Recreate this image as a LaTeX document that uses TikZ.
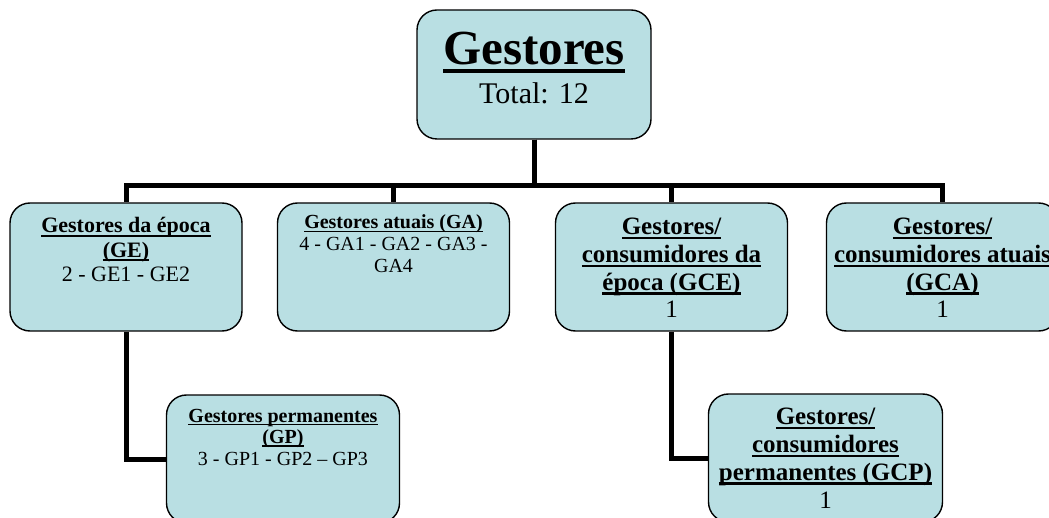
\documentclass[tikz,border=0pt]{standalone}
\usepackage{fontspec}
\setmainfont{Liberation Serif}
\usetikzlibrary{positioning}
\definecolor{boxfill}{RGB}{185,223,227}
\newcommand{\ulin}[1]{\leavevmode\setbox0\hbox{#1}\rlap{\rule[-0.17em]{\wd0}{0.085em}}\box0}
\tikzset{
	box/.style={draw=black, line width=1.4pt, fill=boxfill, rounded corners=20pt, minimum width=232pt, minimum height=128pt, inner sep=0pt},
	txt/.style={anchor=base, align=center, inner sep=0pt},
	link/.style={line width=5pt, draw=black}
}

\begin{document}
\begin{tikzpicture}[x=1pt, y=-1pt]
			%%%%% START %%%%%
			\useasboundingbox (0, 0) rectangle (1049, 518);
			\clip (0, 0) rectangle (1049, 518);
			
			\node[box, minimum width=234pt, minimum height=129pt] (top) at (534, 74.5) {};
			\node[box] (ge) at (126, 267) {};
			\node[box] (ga) at (393.5, 267) {};
			\node[box] (gce) at (671.5, 267) {};
			\node[box] (gca) at (942.5, 267) {};
			\node[box, minimum width=233pt] (gp) at (283, 459) {};
			\node[box, minimum width=234pt] (gcp) at (825.5, 458) {};
			
			\foreach \n in {ge, ga, gce, gca}
				\draw[link] (top.south) -- ++(0, 45.5) -| (\n.north);
			\draw[link] (ge.south) |- (gp.west);
			\draw[link] (gce.south) |- (gcp.west);
			
			\node[txt, font=\fontsize{30}{39}\selectfont] (topText) at (534, 104)
				{{\fontsize{49}{39}\selectfont\bfseries\ulin{Gestores}}\\Total: 12};
			\node[txt, font=\fontsize{22}{24.5}\selectfont] (geText) at (126, 282)
				{\textbf{\ulin{Gestores da época}}\\\textbf{\ulin{(GE)}}\\2 - GE1 - GE2};
			\node[txt, font=\fontsize{20}{22}\selectfont] (gaText) at (393.5, 273)
				{\textbf{\ulin{Gestores atuais (GA)}}\\4 - GA1 - GA2 - GA3 -\\GA4};
			\node[txt, font=\fontsize{25}{27.7}\selectfont] (gceText) at (671.5, 318)
				{\textbf{\ulin{Gestores/}}\\\textbf{\ulin{consumidores da}}\\\textbf{\ulin{época (GCE)}}\\1};
			\node[txt, font=\fontsize{25}{27.7}\selectfont] (gcaText) at (942.5, 318)
				{\textbf{\ulin{Gestores/}}\\\textbf{\ulin{consumidores atuais}}\\\textbf{\ulin{(GCA)}}\\1};
			\node[txt, font=\fontsize{20}{21.5}\selectfont] (gpText) at (283, 465)
				{\textbf{\ulin{Gestores permanentes}}\\\textbf{\ulin{(GP)}}\\3 - GP1 - GP2 -- GP3};
			\node[txt, font=\fontsize{25}{27.7}\selectfont] (gcpText) at (825.5, 508)
				{\textbf{\ulin{Gestores/}}\\\textbf{\ulin{consumidores}}\\\textbf{\ulin{permanentes (GCP)}}\\1};
			%%%%% END %%%%%
\end{tikzpicture}
\end{document}
